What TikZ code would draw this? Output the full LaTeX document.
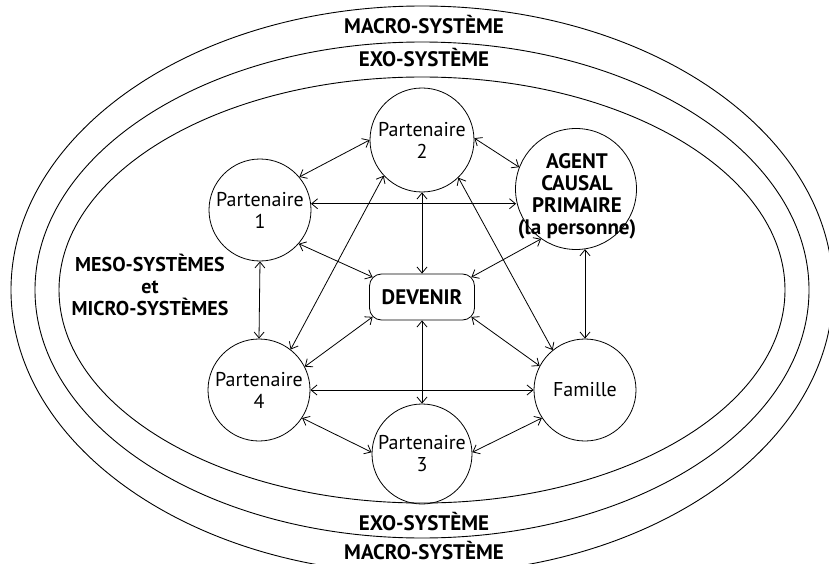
\documentclass[tikz,border=0pt]{standalone}
\usepackage{fontspec}
\setmainfont{PT Sans}
\usetikzlibrary{arrows.meta,calc}
\tikzset{
  ring/.style={line width=0.9pt},
  actor/.style={circle,draw,line width=0.8pt,inner sep=0pt,align=center,
    font=\fontsize{20}{22}\selectfont},
  hub/.style={rounded corners=12pt,draw,line width=0.8pt,inner sep=0pt,
    minimum width=105pt,minimum height=46pt,font=\bfseries\fontsize{21}{22}\selectfont},
  tag/.style={align=center,font=\bfseries\fontsize{21}{22}\selectfont},
  link/.style={line width=0.8pt,{Straight Barb[length=6pt,width=10pt]}-{Straight Barb[length=6pt,width=10pt]}}
}
\begin{document}
\begin{tikzpicture}[x=1pt,y=-1pt]
\useasboundingbox (0,0) rectangle (829,564);
% nested systems
\draw[ring] (422,290) ellipse [x radius=411,y radius=284];
\draw[ring] (422,290) ellipse [x radius=387,y radius=248];
\draw[ring] (422,290) ellipse [x radius=363,y radius=213];
\node[tag,anchor=base] (macroT) at (424,34) {MACRO-SYSTÈME};
\node[tag,anchor=base] (exoT) at (424,67) {EXO-SYSTÈME};
\node[tag,anchor=base] (exoB) at (424,530) {EXO-SYSTÈME};
\node[tag,anchor=base] (macroB) at (424,559) {MACRO-SYSTÈME};
\node[tag,font=\bfseries\fontsize{20}{22}\selectfont] (meso) at (150,285) {MESO-SYSTÈMES\\et\\MICRO-SYSTÈMES};
% actors
\node[actor,minimum size=102pt] (p1) at (260,210) {Partenaire\\1};
\node[actor,minimum size=104pt] (p2) at (422,140) {Partenaire\\2};
\node[actor,minimum size=121pt] (agent) at (576,189) {};
\node[align=center,font=\bfseries\fontsize{21}{22}\selectfont] (agentT) at (577,196) {AGENT\\CAUSAL\\PRIMAIRE\\(la personne)};
\node[actor,minimum size=102pt] (p4) at (259,390) {Partenaire\\4};
\node[actor,minimum size=102pt] (fam) at (585,390) {Famille};
\node[actor,minimum size=100pt] (p3) at (422,454) {Partenaire\\3};
\node[hub] (dev) at (422,297) {DEVENIR};
% relations
\draw[link] (p1.40) -- (p2.180);
\draw[link] (p1.7) -- ([xshift=1pt]p1.7 -| agent.west);
\draw[link] (p1.319) -- ([xshift=3.5pt,yshift=-3.5pt]dev.north west);
\draw[link] (p1.south) -- (p4.north);
\draw[link] (p2.2) -- (agent.159);
\draw[link] (p2.south) -- (dev.north);
\draw[link] (p2.223) -- (p4.52);
\draw[link] (p2.314) -- (fam.129);
\draw[link] (agent.235) -- ([xshift=-3.5pt,yshift=-3.5pt]dev.north east);
\draw[link] (agent.279 -| fam.north) -- (fam.north);
\draw[link] ([xshift=3.5pt,yshift=3.5pt]dev.south west) -- (p4.27);
\draw[link] ([xshift=-3.5pt,yshift=3.5pt]dev.south east) -- (fam.152);
\draw[link] (dev.south) -- (p3.north);
\draw[link] (p4.east) -- (fam.west);
\draw[link] (p4.327) -- (p3.178);
\draw[link] (p3.2) -- (fam.213);
\end{tikzpicture}
\end{document}
